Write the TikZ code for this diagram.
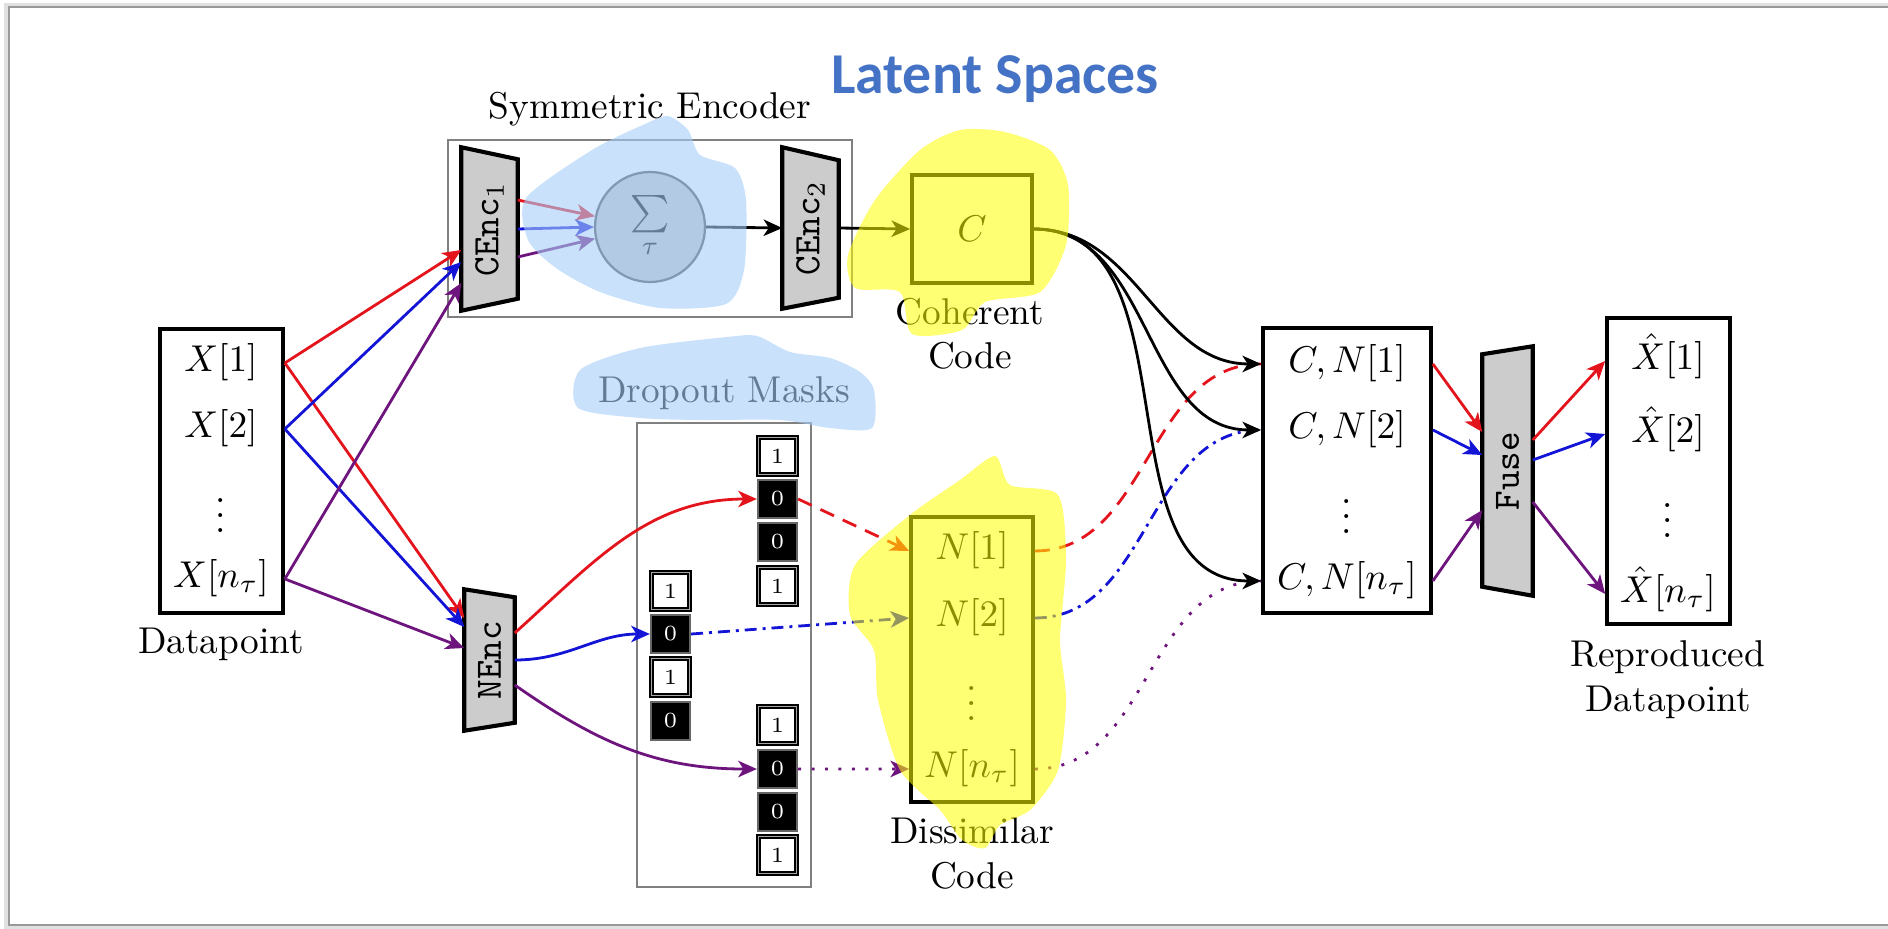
\documentclass[tikz,border=0pt]{standalone}
\usepackage{fontspec}
\usepackage{graphicx}
\newfontfamily\calibrifont{Carlito}
\usetikzlibrary{arrows.meta,calc}
\pgfdeclarelayer{bg}
\pgfdeclarelayer{hl}
\pgfsetlayers{bg,main,hl}
\definecolor{myred}{RGB}{228,20,28}
\definecolor{myblue}{RGB}{20,20,215}
\definecolor{mypurple}{RGB}{110,20,125}
\definecolor{latentblue}{RGB}{68,114,196}
\definecolor{hlblue}{RGB}{165,205,248}
\definecolor{hlyellow}{RGB}{255,255,0}
\def\u{0.268pt}
\begin{document}
\begin{tikzpicture}[x=\u, y=-\u,
  box/.style={draw, line width=1pt, inner sep=0pt},
  graybox/.style={draw=black!50, line width=0.6pt, inner sep=0pt},
  lbl/.style={inner sep=0pt, align=center, anchor=north},
  mlbl/.style={anchor=base, inner sep=0pt},
  trap/.style={draw, line width=1.1pt, fill=gray!40},
  tnode/.style={inner sep=0pt},
  cellw/.style={draw=black, line width=1.1pt, fill=white, inner sep=0pt,
     minimum width={38*\u}, minimum height={37*\u}, font=\fontsize{5.8}{6}\selectfont,
     postaction={draw=black!35, line width=0.4pt, shorten >=0pt}},
  cellb/.style={draw=black!60, line width=0.6pt, fill=black, text=white, inner sep=0pt,
     minimum width={39*\u}, minimum height={38*\u}, font=\fontsize{5.8}{6}\selectfont},
  conn/.style={line width=0.75pt, -{Stealth[length=5pt,width=4.4pt,inset=1.4pt]}},
  plain/.style={line width=0.75pt},
  reddash/.style={dash pattern=on 4pt off 2.6pt},
  bluedash/.style={dash pattern=on 3.2pt off 1.6pt on 0.8pt off 1.6pt},
  purpdot/.style={dash pattern=on 0.8pt off 2.8pt},
  hlb/.style={fill=hlblue, fill opacity=0.6},
  hly/.style={fill=hlyellow, fill opacity=0.55}
]
\useasboundingbox (0,0) rectangle (1888,928);
% frame
\draw[black!12, line width=1.2pt] (1888,5) -- (6,5) -- (6,927) -- (1888,927);
\draw[black!40, line width=0.6pt] (1888,7) -- (9,7) -- (9,925) -- (1888,925);

% title
\node[font=\calibrifont\bfseries\fontsize{15.5}{18}\selectfont, text=latentblue, anchor=base, inner sep=0] (title) at (995,93) {Latent Spaces};

% datapoint
\node[box, minimum width={123*\u}, minimum height={284*\u}] (dp) at (221.5,471) {};
\node[mlbl] (x1) at (221,371) {$X[1]$};
\node[mlbl] (x2) at (221,437) {$X[2]$};
\node[mlbl] (xd) at (221,532) {$\vdots$};
\node[mlbl] (xn) at (221,587) {$X[n_\tau]$};
\node[lbl] (dplbl) at (221,627) {Datapoint};

% symmetric encoder
\node[graybox, minimum width={404*\u}, minimum height={177*\u}] (senc) at (650,228.5) {};
\node (senclbl) at (650,109) {Symmetric Encoder};
\node[tnode, minimum width={55*\u}, minimum height={162*\u}] (cenc1) at (489.5,229) {\rotatebox{90}{$\texttt{CEnc}_1$}};
\node[tnode, minimum width={55*\u}, minimum height={160*\u}] (cenc2) at (810.5,228) {\rotatebox{90}{$\texttt{CEnc}_2$}};
\node[circle, draw=black!70, line width=0.6pt, fill=gray!45, minimum size={110*\u}, inner sep=0] (sum) at (650,227) {$\sum\limits_{\tau}$};
\node[box, minimum width={120*\u}, minimum height={108*\u}] (cbox) at (972,229) {$C$};
\node[lbl] (cohlbl) at (970,297) {Coherent\\Code};

% noise encoder
\node[tnode, minimum width={49*\u}, minimum height={140*\u}] (nenc) at (489.5,660) {\rotatebox{90}{\texttt{NEnc}}};

% dropout masks
\node[graybox, minimum width={174*\u}, minimum height={464*\u}] (dbox) at (724,655) {};
\node (dlbl) at (724,393) {Dropout Masks};
\node[cellw] (m1a) at (777.5,456) {1};
\node[cellb] (m1b) at (777.5,499) {0};
\node[cellb] (m1c) at (777.5,542) {0};
\node[cellw] (m1d) at (777.5,586) {1};
\node[cellw] (m2a) at (670.5,591) {1};
\node[cellb] (m2b) at (670.5,634) {0};
\node[cellw] (m2c) at (670.5,677) {1};
\node[cellb] (m2d) at (670.5,721) {0};
\node[cellw] (m3a) at (777.5,725) {1};
\node[cellb] (m3b) at (777.5,769) {0};
\node[cellb] (m3c) at (777.5,812) {0};
\node[cellw] (m3d) at (777.5,855) {1};

% dissimilar code
\node[box, minimum width={122*\u}, minimum height={285*\u}] (nbox) at (972,659.5) {};
\node[mlbl] (n1) at (972,559) {$N[1]$};
\node[mlbl] (n2) at (972,626) {$N[2]$};
\node[mlbl] (nd) at (972,720) {$\vdots$};
\node[mlbl] (nn) at (972,777) {$N[n_\tau]$};
\node[lbl] (dislbl) at (972,817) {Dissimilar\\Code};

% combined
\node[box, minimum width={168*\u}, minimum height={285*\u}] (cn) at (1347,470.5) {};
\node[mlbl] (cn1) at (1347,372) {$C,N[1]$};
\node[mlbl] (cn2) at (1347,438) {$C,N[2]$};
\node[mlbl] (cnd) at (1347,533) {$\vdots$};
\node[mlbl] (cnn) at (1347,589) {$C,N[n_\tau]$};

% fuse
\node[tnode, minimum width={49*\u}, minimum height={248*\u}] (fuse) at (1507.5,471) {\rotatebox{90}{\texttt{Fuse}}};

% reproduced
\node[box, minimum width={123*\u}, minimum height={306*\u}] (xh) at (1668.5,471) {};
\node[mlbl] (xh1) at (1668,369) {$\hat{X}[1]$};
\node[mlbl] (xh2) at (1668,442) {$\hat{X}[2]$};
\node[mlbl] (xhd) at (1668,537) {$\vdots$};
\node[mlbl] (xhn) at (1668,602) {$\hat{X}[n_\tau]$};
\node[lbl] (replbl) at (1668,640) {Reproduced\\Datapoint};

% trapezoid bodies
\begin{pgfonlayer}{bg}
\draw[trap] (cenc1.north west) -- ($(cenc1.north east)+(0,12)$) -- ($(cenc1.south east)+(0,-12)$) -- (cenc1.south west) -- cycle;
\draw[trap] (cenc2.north west) -- ($(cenc2.north east)+(0,13)$) -- ($(cenc2.south east)+(0,-11)$) -- (cenc2.south west) -- cycle;
\draw[trap] (nenc.north west) -- ($(nenc.north east)+(0,8)$) -- ($(nenc.south east)+(0,-8)$) -- (nenc.south west) -- cycle;
\draw[trap] ($(fuse.north west)+(0,8)$) -- (fuse.north east) -- (fuse.south east) -- ($(fuse.south west)+(0,-9)$) -- cycle;
\end{pgfonlayer}

% datapoint -> encoders
\draw[conn, myred] (dp.east |- x1.mid) -- ($(cenc1.west)+(0,21)$);
\draw[conn, myred] (dp.east |- x1.mid) -- ($(nenc.west)+(0,-42)$);
\draw[conn, myblue] (dp.east |- x2.mid) -- ($(cenc1.west)+(0,33)$);
\draw[conn, myblue] (dp.east |- x2.mid) -- ($(nenc.west)+(0,-33)$);
\draw[conn, mypurple] (dp.east |- xn.mid) -- ($(cenc1.west)+(0,54)$);
\draw[conn, mypurple] (dp.east |- xn.mid) -- ($(nenc.west)+(0,-12)$);

% CEnc1 -> sum -> CEnc2 -> C
\draw[conn, myred] ($(cenc1.east)+(0,-29)$) -- (sum.169);
\draw[conn, myblue] (cenc1.east) -- (sum.180);
\draw[conn, mypurple] ($(cenc1.east)+(0,28)$) -- (sum.192);
\draw[conn] (sum.east) -- (cenc2.west);
\draw[conn] (cenc2.east) -- (cbox.west);

% NEnc -> masks
\draw[conn, myred] ($(nenc.east)+(0,-27)$) to[out=42,in=180] (m1b.west);
\draw[conn, myblue] (nenc.east) to[out=0,in=180] (m2b.west);
\draw[conn, mypurple] ($(nenc.east)+(0,25)$) to[out=-35,in=180] (m3b.west);

% masks -> N
\draw[conn, myred, reddash] (m1b.east) -- (nbox.west |- n1.mid);
\draw[conn, myblue, bluedash] (m2b.east) -- (nbox.west |- n2.mid);
\draw[conn, mypurple, purpdot] (m3b.east) -- (nbox.west |- nn.mid);

% N -> CN
\draw[plain, myred, reddash] (nbox.east |- n1.mid) to[out=0,in=180] (cn.west |- cn1.mid);
\draw[plain, myblue, bluedash] (nbox.east |- n2.mid) to[out=0,in=180] (cn.west |- cn2.mid);
\draw[plain, mypurple, purpdot] (nbox.east |- nn.mid) to[out=0,in=180] (cn.west |- cnn.mid);

% C -> CN
\draw[conn] (cbox.east) to[out=0,in=180] (cn.west |- cn1.mid);
\draw[conn] (cbox.east) to[out=0,in=180] (cn.west |- cn2.mid);
\draw[conn] (cbox.east) to[out=0,in=180] (cn.west |- cnn.mid);

% CN -> Fuse
\draw[conn, myred] (cn.east |- cn1.mid) -- ($(fuse.west)+(0,-39)$);
\draw[conn, myblue] (cn.east |- cn2.mid) -- ($(fuse.west)+(0,-16)$);
\draw[conn, mypurple] (cn.east |- cnn.mid) -- ($(fuse.west)+(0,39)$);

% Fuse -> Xhat
\draw[conn, myred] ($(fuse.east)+(0,-31)$) -- (xh.west |- xh1.mid);
\draw[conn, myblue] ($(fuse.east)+(0,-11)$) -- (xh.west |- xh2.mid);
\draw[conn, mypurple] ($(fuse.east)+(0,31)$) -- (xh.west |- xhn.mid);

% highlights
\begin{pgfonlayer}{hl}
\fill[hlb] plot[smooth cycle, tension=0.45] coordinates {(526,198) (592,150) (645,124) (668,116) (688,130) (700,155) (735,168) (746,200) (744,270) (726,304) (660,308) (600,292) (556,268) (528,240)};
\fill[hlb] plot[smooth cycle, tension=0.45] coordinates {(578,408) (580,370) (640,348) (727,337) (757,336) (790,352) (830,358) (860,372) (874,390) (872,428) (830,428) (780,420) (700,420) (640,418)};
\fill[hly] plot[smooth cycle, tension=0.45] coordinates {(848,255) (875,200) (920,150) (960,130) (1005,132) (1050,150) (1068,185) (1066,245) (1040,292) (985,302) (962,330) (912,334) (900,292) (855,288)};
\fill[hly] plot[smooth cycle, tension=0.45] coordinates {(995,456) (1010,485) (1058,495) (1066,560) (1060,640) (1066,700) (1058,770) (1030,810) (1000,825) (985,848) (962,840) (940,810) (900,770) (878,700) (874,650) (850,615) (855,565) (910,515) (960,480)};
\end{pgfonlayer}
\end{tikzpicture}
\end{document}
